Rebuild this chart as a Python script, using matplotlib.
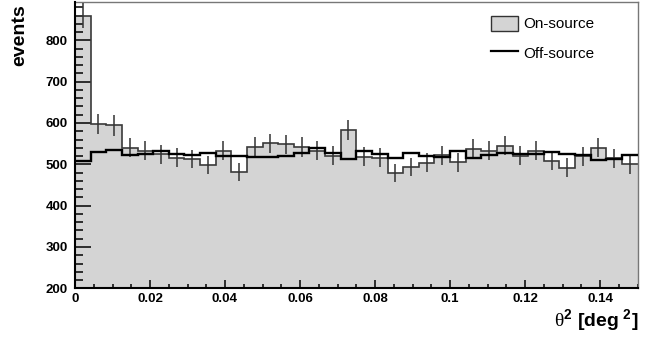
import numpy as np
import matplotlib
matplotlib.use("Agg")
import matplotlib.pyplot as plt
from matplotlib.patches import Patch
from matplotlib.lines import Line2D
from matplotlib.ticker import MultipleLocator

plt.rcParams['font.family'] = ['Liberation Sans', 'DejaVu Sans']
plt.rcParams['mathtext.fontset'] = 'custom'
plt.rcParams['mathtext.rm'] = 'Liberation Serif'
plt.rcParams['mathtext.bf'] = 'Liberation Sans:bold'

# histogram binning (theta^2)
bin_lo, bin_hi, n_bins = 0.0, 0.15, 36

# counts per bin
on = np.array([860, 598, 594, 540, 533, 524, 516, 513, 499, 533,
               482, 542, 551, 548, 542, 533, 521, 582, 518, 516,
               479, 494, 504, 522, 505, 537, 533, 545, 521, 533,
               509, 492, 519, 540, 515, 500])
off = np.array([508, 530, 534, 522, 524, 532, 524, 522, 527, 519,
                519, 518, 518, 519, 527, 539, 528, 514, 532, 524,
                516, 527, 519, 518, 532, 516, 522, 527, 524, 526,
                530, 526, 522, 510, 513, 522])
on_err = np.sqrt(on)  # poisson

edges = np.linspace(bin_lo, bin_hi, n_bins + 1)
centers = 0.5 * (edges[:-1] + edges[1:])

W, H = 654, 338
fig = plt.figure(figsize=(W / 100, H / 100), dpi=100)
ax = fig.add_axes([75 / W, 1 - 288.3 / H, (637.5 - 75) / W, (288.3 - 1.5) / H])

# on-source: filled
ax.stairs(on, edges, fill=True, color='#d4d4d4', baseline=0, zorder=1)
ax.stairs(on, edges, color='#3a3a3a', lw=1.2, baseline=None, zorder=2)
ax.errorbar(centers, on, yerr=on_err, fmt='none', ecolor='#333333',
            elinewidth=1.1, capsize=0, zorder=3)
# off-source: line
ax.stairs(off, edges, color='black', lw=1.7, baseline=None, zorder=4)

ax.set_xlim(bin_lo, bin_hi)
ax.set_ylim(200, 894)

ax.xaxis.set_major_locator(MultipleLocator(0.02))
ax.xaxis.set_minor_locator(MultipleLocator(0.005))
ax.yaxis.set_major_locator(MultipleLocator(100))
ax.yaxis.set_minor_locator(MultipleLocator(20))
ax.xaxis.set_major_formatter(plt.FuncFormatter(lambda v, p: '0' if v == 0 else ('%g' % v)))

ax.tick_params(axis='x', which='major', direction='in', length=5.8, width=1.1,
               pad=3.5, labelsize=9.5)
ax.tick_params(axis='x', which='minor', direction='in', length=2.9, width=1.1)
ax.tick_params(axis='y', which='major', direction='in', length=11.3, width=1.1,
               pad=5.3, labelsize=9.5)
ax.tick_params(axis='y', which='minor', direction='in', length=5.8, width=1.1)
for lab in ax.get_xticklabels() + ax.get_yticklabels():
    lab.set_fontweight('bold')

for s in ['left', 'bottom']:
    ax.spines[s].set_linewidth(1.5)
    ax.spines[s].set_color('black')
    ax.spines[s].set_zorder(6)
for s in ['top', 'right']:
    ax.spines[s].set_linewidth(1.0)
    ax.spines[s].set_color('#777777')

fig.text(20 / W, 1 - 4 / H, 'events', rotation=90, ha='center', va='top',
         fontsize=14, fontweight='bold')
fig.text(638 / W, 1 - 327 / H,
         r'$\mathrm{\theta}^{\mathbf{2}}$ [deg$^{\mathbf{\ 2}}$]',
         ha='right', va='baseline', fontsize=14, fontweight='bold')

handles = [Patch(facecolor='#d4d4d4', edgecolor='#333333', lw=1.0),
           Line2D([0], [0], color='black', lw=1.6)]
ax.legend(handles, ['On-source', 'Off-source'], loc='upper left',
          bbox_to_anchor=(491 / W, 1 - 15.5 / H), bbox_transform=fig.transFigure,
          frameon=False, fontsize=11, handlelength=1.75, handleheight=1.15,
          handletextpad=0.35, labelspacing=0.9, borderpad=0, borderaxespad=0)

fig.savefig('out.png', dpi=100)
